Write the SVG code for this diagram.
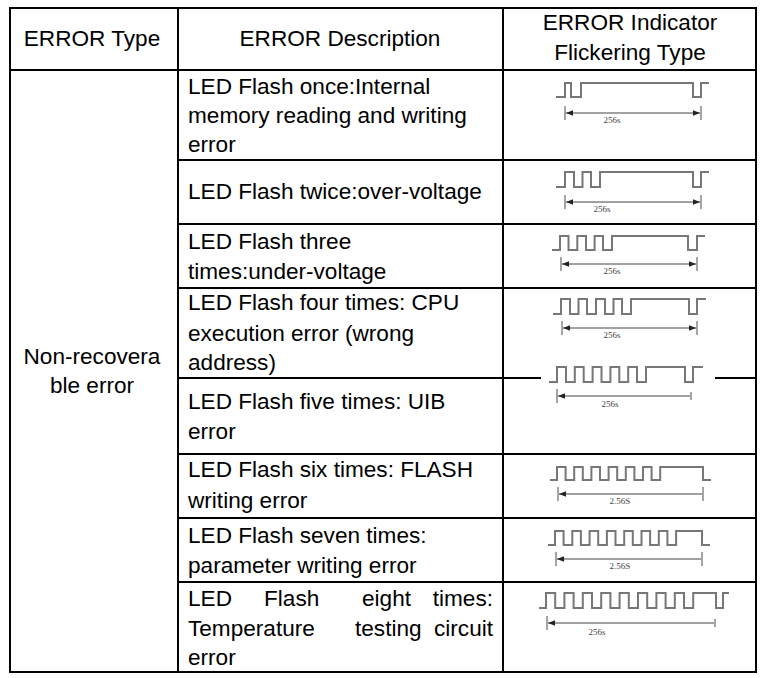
<svg xmlns="http://www.w3.org/2000/svg" width="765" height="678" viewBox="0 0 765 678">
<style>
.t{font-family:"Liberation Sans",Arial,sans-serif;font-size:22.6px;fill:#000}
.c{text-anchor:middle}
.w{fill:none;stroke:#777;stroke-width:2}
.a{stroke:#444;stroke-width:1;fill:none;marker-start:url(#ah);marker-end:url(#ah)}
.k{stroke:#888;stroke-width:1.5}
.s{font-family:"Liberation Serif",serif;font-size:9px;fill:#444;text-anchor:middle}
.g{stroke:#000;stroke-width:2;fill:none}
</style>
<defs>
<marker id="ah" viewBox="0 0 10 10" refX="10" refY="5" markerWidth="7" markerHeight="7" orient="auto-start-reverse"><path d="M0,1 L10,5 L0,9 z" fill="#222"/></marker>
</defs>
<rect width="765" height="678" fill="#fff"/>
<g id="grid">
<path class="g" d="M10,8 H756 V672 H10 Z M178,8 V672 M503,8 V672 M10,70 H756 M178,160 H756 M178,224 H756 M178,288 H756 M178,378 H541 M715,378 H756 M178,454 H756 M178,518 H756 M178,582 H756"/>
</g>
<g id="header">
<text class="t c" x="92" y="46">ERROR Type</text>
<text class="t c" x="340" y="46">ERROR Description</text>
<text class="t c" x="630" y="30">ERROR Indicator</text>
<text class="t c" x="630" y="60">Flickering Type</text>
</g>
<g id="type">
<text class="t c" x="92" y="364">Non-recovera</text>
<text class="t c" x="92" y="393">ble error</text>
</g>
<g id="desc">
<text class="t" x="188" y="94">LED Flash once:Internal</text>
<text class="t" x="188" y="123">memory reading and writing</text>
<text class="t" x="188" y="152">error</text>
<text class="t" x="188" y="199">LED Flash twice:over-voltage</text>
<text class="t" x="188" y="249">LED Flash three</text>
<text class="t" x="188" y="279">times:under-voltage</text>
<text class="t" x="188" y="310">LED Flash four times: CPU</text>
<text class="t" x="188" y="341">execution error (wrong</text>
<text class="t" x="188" y="370">address)</text>
<text class="t" x="188" y="409">LED Flash five times: UIB</text>
<text class="t" x="188" y="439">error</text>
<text class="t" x="188" y="477">LED Flash six times: FLASH</text>
<text class="t" x="188" y="508">writing error</text>
<text class="t" x="188" y="543">LED Flash seven times:</text>
<text class="t" x="188" y="573">parameter writing error</text>
<text class="t" x="188" y="606">LED</text>
<text class="t" x="264" y="606">Flash</text>
<text class="t" x="362" y="606">eight</text>
<text class="t" x="493" y="606" text-anchor="end">times:</text>
<text class="t" x="188" y="636">Temperature</text>
<text class="t" x="355" y="636">testing</text>
<text class="t" x="493" y="636" text-anchor="end">circuit</text>
<text class="t" x="188" y="665">error</text>
</g>
<g id="waves">
<path class="w" d="M556,97 H565 V83 H571 V97 H581 V83 H693 V97 H701 V83 H709"/>
<path class="a" d="M566,113 H700"/><path class="k" d="M565,106 V120 M701,106 V120"/>
<text class="s" x="612" y="123">256s</text>

<path class="w" d="M556,187 H565 V172 H574 V187 H582.5 V172 H591 V187 H600 V172 H693 V187 H701 V172 H709"/>
<path class="a" d="M566,202 H700"/><path class="k" d="M565,195 V209 M701,195 V209"/>
<text class="s" x="602" y="212">256s</text>

<path class="w" d="M552,250 H560 V236 H568.5 V250 H577.3 V236 H586 V250 H594.6 V236 H603 V250 H612 V236 H688 V250 H697 V236 H705"/>
<path class="a" d="M562,264 H696"/><path class="k" d="M561,257 V271 M697,257 V271"/>
<text class="s" x="612" y="274">256s</text>

<path class="w" d="M553,314 H561 V299 H570 V314 H578.5 V299 H587 V314 H596 V299 H605 V314 H613.5 V299 H622 V314 H631 V299 H689 V314 H697 V299 H706"/>
<path class="a" d="M563,328 H696"/><path class="k" d="M562,321 V335 M697,321 V335"/>
<text class="s" x="612" y="338">256s</text>

<path class="w" d="M549,382 H557 V367 H566 V382 H574.8 V367 H583.7 V382 H592.6 V367 H601.5 V382 H610.4 V367 H619.3 V382 H628.2 V367 H637 V382 H646 V367 H685 V382 H693 V367 H703"/>
<path class="a" d="M558,396 H690" style="marker-end:none"/><path class="k" d="M557,389 V403 M691,392 V400"/>
<text class="s" x="610" y="407">256s</text>

<path class="w" d="M550,480 H557 V467 H565.6 V480 H574.2 V467 H582.8 V480 H591.4 V467 H600 V480 H608.6 V467 H617.2 V480 H625.8 V467 H634.4 V480 H643 V467 H651.6 V480 H660.2 V467 H703 V480 H711"/>
<path class="a" d="M559,494 H702" style="marker-end:none"/><path class="k" d="M558,487 V501 M703,487 V501"/>
<text class="s" x="620" y="504">2.56S</text>

<path class="w" d="M548,545 H555 V531 H563.6 V545 H572.3 V531 H580.9 V545 H589.6 V531 H598.2 V545 H606.9 V531 H615.5 V545 H624.2 V531 H632.8 V545 H641.5 V531 H650.1 V545 H658.8 V531 H667.4 V545 H676.1 V531 H702 V545 H710"/>
<path class="a" d="M557,559 H701" style="marker-end:none"/><path class="k" d="M556,552 V566 M702,552 V566"/>
<text class="s" x="620" y="569">2.56S</text>

<path class="w" d="M539,608 H546 V593 H555.2 V608 H564.4 V593 H573.6 V608 H582.8 V593 H592 V608 H601.2 V593 H610.4 V608 H619.6 V593 H628.8 V608 H638 V593 H647.2 V608 H656.4 V593 H665.6 V608 H674.8 V593 H684 V608 H693.2 V593 H716 V608 H723 V593 H729"/>
<path class="a" d="M548,623 H714" style="marker-end:none"/><path class="k" d="M547,616 V630 M715,619 V627"/>
<text class="s" x="597" y="635">256s</text>
</g>
</svg>
